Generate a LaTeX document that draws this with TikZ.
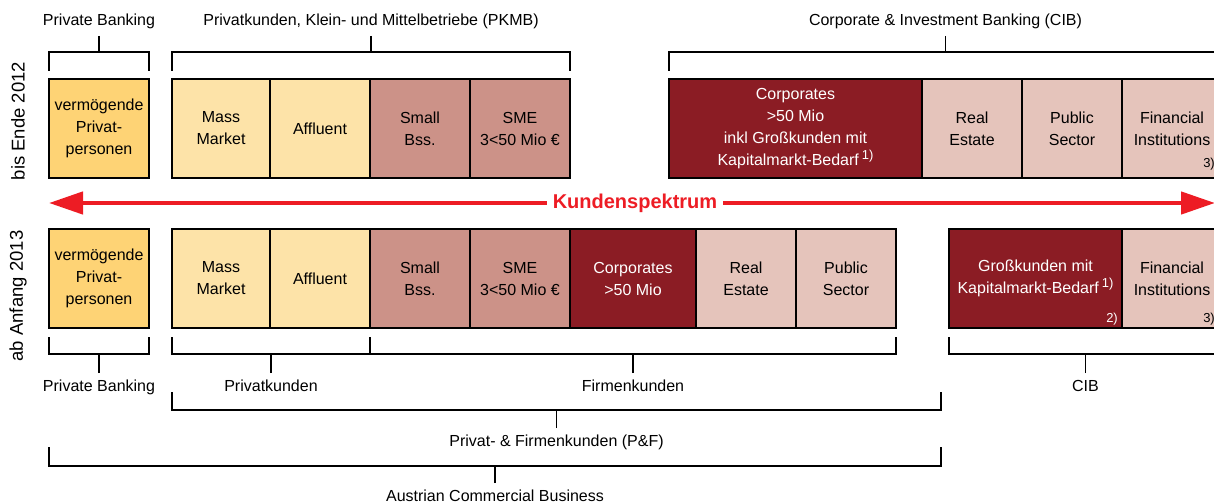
\documentclass[tikz,border=0pt]{standalone}
\usepackage{fontspec}
\setmainfont{Liberation Sans}
\usetikzlibrary{positioning,calc,arrows.meta}

\definecolor{gold}{RGB}{254,211,117}
\definecolor{cream}{RGB}{253,227,168}
\definecolor{rose}{RGB}{204,146,136}
\definecolor{wine}{RGB}{139,28,36}
\definecolor{blush}{RGB}{229,196,187}
\definecolor{signal}{RGB}{237,28,36}

\newcommand\fnmark[1]{\hspace{3pt}\raisebox{6pt}{\fontsize{13}{13}\selectfont #1}}

\begin{document}
\begin{tikzpicture}[x=1pt, y=-1pt,
  seg/.style={draw, line width=1.2pt, minimum width=100pt, minimum height=99pt,
    inner sep=0pt, outer sep=0pt, align=center, font=\fontsize{16}{22}\selectfont},
  brace/.style={line width=1.3pt},
  grp/.style={font=\fontsize{16}{19}\selectfont, inner sep=0pt, outer sep=0pt,
    text height=12pt, text depth=4pt},
  fn/.style={font=\fontsize{13}{13}\selectfont, inner sep=0pt},
  year/.style={rotate=90, font=\fontsize{18.5}{18.5}\selectfont, inner sep=0pt}]
  \useasboundingbox (0,0) rectangle (1214,502);

  % bis Ende 2012
  \node[seg, fill=gold, anchor=north west] (pbA) at (49,79) {vermögende\\Privat-\\personen};
  \node[seg, fill=cream, anchor=north west, minimum width=98pt] (massA) at (172,79) {Mass\\Market};
  \node[seg, fill=cream, right=0pt of massA] (affA) {Affluent};
  \node[seg, fill=rose, right=0pt of affA] (smallA) {Small\\Bss.};
  \node[seg, fill=rose, right=0pt of smallA] (smeA) {SME\\3<50 Mio €};
  \node[seg, fill=wine, text=white, anchor=north west, minimum width=253pt] (corpA) at (669,79)
    {Corporates\\>50 Mio\\inkl Großkunden mit\\Kapitalmarkt-Bedarf\fnmark{1)}};
  \node[seg, fill=blush, right=0pt of corpA] (realA) {Real\\Estate};
  \node[seg, fill=blush, right=0pt of realA] (pubA) {Public\\Sector};
  \node[seg, fill=blush, right=0pt of pubA] (fiA) {Financial\\Institutions};
  \node[fn, anchor=south east] (fnA) at ([shift={(-7pt,8pt)}]fiA.south east) {3)};

  % ab Anfang 2013
  \node[seg, fill=gold, anchor=north west] (pbB) at (49,229) {vermögende\\Privat-\\personen};
  \node[seg, fill=cream, anchor=north west, minimum width=98pt] (massB) at (172,229) {Mass\\Market};
  \node[seg, fill=cream, right=0pt of massB] (affB) {Affluent};
  \node[seg, fill=rose, right=0pt of affB] (smallB) {Small\\Bss.};
  \node[seg, fill=rose, right=0pt of smallB] (smeB) {SME\\3<50 Mio €};
  \node[seg, fill=wine, text=white, right=0pt of smeB, minimum width=126pt] (corpB) {Corporates\\>50 Mio};
  \node[seg, fill=blush, right=0pt of corpB] (realB) {Real\\Estate};
  \node[seg, fill=blush, right=0pt of realB] (pubB) {Public\\Sector};
  \node[seg, fill=wine, text=white, anchor=north west, minimum width=173pt] (grossB) at (949,229)
    {Großkunden mit\\Kapitalmarkt-Bedarf\fnmark{1)}};
  \node[seg, fill=blush, right=0pt of grossB] (fiB) {Financial\\Institutions};
  \node[fn, text=white, anchor=south east] (fnGross) at ([shift={(-4pt,3pt)}]grossB.south east) {2)};
  \node[fn, anchor=south east] (fnB) at ([shift={(-7pt,3pt)}]fiB.south east) {3)};

  \node[year] (yrA) at (18,121) {bis Ende 2012};
  \node[year] (yrB) at (18,296) {ab Anfang 2013};

  % Kundenspektrum
  \node[font=\bfseries\fontsize{20}{20}\selectfont, text=signal, inner xsep=6pt, inner ysep=0pt] (spec) at (635,203) {Kundenspektrum};
  \coordinate (specL) at (49,203);
  \coordinate (specR) at (1215,203);
  \draw[signal, line width=4.5pt, -{Triangle[length=34pt,width=22pt]}] (spec.west) -- (specL);
  \draw[signal, line width=4.5pt, -{Triangle[length=34pt,width=22pt]}] (spec.east) -- (specR);

  % groups until 2012
  \node[grp, above=49pt of pbA] (pbTopLbl) {Private Banking};
  \draw[brace] ([yshift=8pt]pbA.north west) -- ++(0,-19) -| ([yshift=8pt]pbA.north east);
  \draw[brace] ([yshift=-6pt]pbTopLbl.south) -- ++(0,16);

  \node[grp, anchor=south] (pkmbLbl) at ($(massA.north west)!.5!(smeA.north east)+(0,-49)$)
    {Privatkunden, Klein- und Mittelbetriebe (PKMB)};
  \draw[brace] ([yshift=8pt]massA.north west) -- ++(0,-19) -| ([yshift=8pt]smeA.north east);
  \draw[brace] ([yshift=-6pt]pkmbLbl.south) -- ++(0,16);

  \node[grp, anchor=south] (cibTopLbl) at ($(corpA.north west)!.5!(fiA.north east)+(0,-49)$)
    {Corporate \& Investment Banking (CIB)};
  \draw[brace] ([yshift=8pt]corpA.north west) -- ++(0,-19) -| ([yshift=8pt]fiA.north east);
  \draw[brace] ([yshift=-6pt]cibTopLbl.south) -- ++(0,16);

  % groups from 2013
  \node[grp, below=51pt of pbB] (pbLbl) {Private Banking};
  \draw[brace] ([yshift=-9pt]pbB.south west) -- ++(0,17) -| ([yshift=-9pt]pbB.south east);
  \draw[brace] ([yshift=6pt]pbLbl.north) -- ++(0,-19);

  \node[grp, anchor=north] (pkLbl) at ($(massB.south west)!.5!(affB.south east)+(0,51)$) {Privatkunden};
  \draw[brace] ([yshift=-9pt]massB.south west) -- ++(0,17) -| ([yshift=-9pt]affB.south east);
  \draw[brace] ([yshift=6pt]pkLbl.north) -- ++(0,-19);

  \node[grp, anchor=north] (fkLbl) at ($(smallB.south west)!.5!(pubB.south east)+(0,51)$) {Firmenkunden};
  \draw[brace] ([yshift=-9pt]smallB.south west) -- ++(0,17) -| ([yshift=-9pt]pubB.south east);
  \draw[brace] ([yshift=6pt]fkLbl.north) -- ++(0,-19);

  \node[grp, anchor=north] (cibLbl) at ($(grossB.south west)!.5!(fiB.south east)+(0,51)$) {CIB};
  \draw[brace] ([yshift=-9pt]grossB.south west) -- ++(0,17) -| ([yshift=-9pt]fiB.south east);
  \draw[brace] ([yshift=6pt]cibLbl.north) -- ++(0,-19);

  \coordinate (pfL) at (172,392);
  \coordinate (pfR) at (941,392);
  \node[grp, anchor=north] (pfLbl) at ($(pfL)!.5!(pfR)+(0,42)$) {Privat- \& Firmenkunden (P\&F)};
  \draw[brace] (pfL) -- ++(0,18) -| (pfR);
  \draw[brace] ([yshift=6pt]pfLbl.north) -- ++(0,-18);

  \coordinate (acbL) at (49,447);
  \coordinate (acbR) at (941,447);
  \node[grp, anchor=north] (acbLbl) at ($(acbL)!.5!(acbR)+(0,42)$) {Austrian Commercial Business};
  \draw[brace] (acbL) -- ++(0,19) -| (acbR);
  \draw[brace] ([yshift=6pt]acbLbl.north) -- ++(0,-17);
\end{tikzpicture}
\end{document}
